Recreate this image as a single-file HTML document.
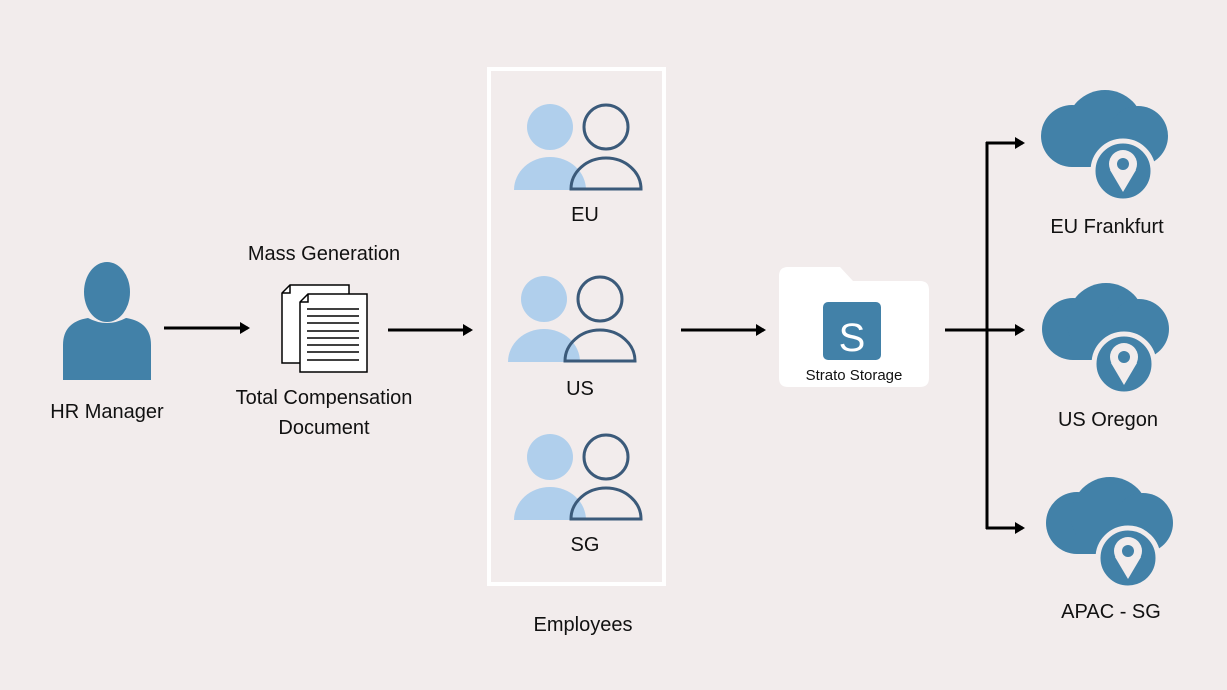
<!DOCTYPE html>
<html><head><meta charset="utf-8"><style>
html,body{margin:0;padding:0;background:#f2ecec;}
svg{display:block}
text{font-family:"Liberation Sans",sans-serif;fill:#111;}
</style></head><body>
<svg width="1227" height="690" viewBox="0 0 1227 690" xmlns="http://www.w3.org/2000/svg">
<defs>
<marker id="ah" markerWidth="12" markerHeight="14" refX="8" refY="7" orient="auto" markerUnits="userSpaceOnUse">
<path d="M0,1 L10,7 L0,13 Z" fill="#000"/>
</marker>
<g id="cloud">
<circle cx="1072" cy="136" r="31" fill="#4281a8"/>
<circle cx="1105" cy="129" r="39" fill="#4281a8"/>
<circle cx="1138" cy="136" r="30" fill="#4281a8"/>
<rect x="1072" y="130" width="66" height="37" fill="#4281a8"/>
<circle cx="1123" cy="171" r="30" fill="#4281a8" stroke="#f2ecec" stroke-width="5"/>
<circle cx="1123" cy="164" r="14" fill="#f2ecec"/>
<path d="M1110,170 L1123,192 L1136,170 Z" fill="#f2ecec"/>
<circle cx="1123" cy="164" r="6" fill="#4281a8"/>
</g>
<g id="pair">
<circle cx="550" cy="127" r="23" fill="#b0cfec"/>
<path d="M514,190 A36,33 0 0 1 586,190 Z" fill="#b0cfec"/>
<circle cx="606" cy="127" r="22" fill="none" stroke="#3b5a7a" stroke-width="3"/>
<path d="M571,189 A35,31 0 0 1 641,189 Z" fill="none" stroke="#3b5a7a" stroke-width="3"/>
</g>
</defs>

<ellipse cx="107" cy="292" rx="23" ry="30" fill="#4281a8"/>
<path d="M63,380 L63,345 Q63,322 88,318 Q107,328 126,318 Q151,322 151,345 L151,380 Z" fill="#4281a8"/>
<text x="107" y="418" font-size="20" text-anchor="middle">HR Manager</text>

<line x1="164" y1="328" x2="248" y2="328" stroke="#000" stroke-width="3" marker-end="url(#ah)"/>

<text x="324" y="260" font-size="20" text-anchor="middle">Mass Generation</text>
<path d="M290,285 L349,285 L349,363 L282,363 L282,293 Z" fill="#fff" stroke="#000" stroke-width="1.5"/>
<path d="M282,293 L290,293 L290,285" fill="none" stroke="#000" stroke-width="1.5"/>
<path d="M308,294 L367,294 L367,372 L300,372 L300,302 Z" fill="#fff" stroke="#000" stroke-width="1.5"/>
<path d="M300,302 L308,302 L308,294" fill="none" stroke="#000" stroke-width="1.5"/>
<g stroke="#000" stroke-width="1.5">
<line x1="307" y1="309" x2="359" y2="309"/><line x1="307" y1="316" x2="359" y2="316"/>
<line x1="307" y1="323" x2="359" y2="323"/><line x1="307" y1="331" x2="359" y2="331"/>
<line x1="307" y1="338" x2="359" y2="338"/><line x1="307" y1="345" x2="359" y2="345"/>
<line x1="307" y1="352" x2="359" y2="352"/><line x1="307" y1="360" x2="359" y2="360"/>
</g>
<text x="324" y="404" font-size="20" text-anchor="middle">Total Compensation</text>
<text x="324" y="434" font-size="20" text-anchor="middle">Document</text>

<line x1="388" y1="330" x2="471" y2="330" stroke="#000" stroke-width="3" marker-end="url(#ah)"/>

<rect x="489" y="69" width="175" height="515" fill="none" stroke="#fff" stroke-width="4"/>
<use href="#pair"/>
<text x="585" y="221" font-size="20" text-anchor="middle">EU</text>
<use href="#pair" transform="translate(-6,172)"/>
<text x="580" y="395" font-size="20" text-anchor="middle">US</text>
<use href="#pair" transform="translate(0,330)"/>
<text x="585" y="551" font-size="20" text-anchor="middle">SG</text>
<text x="583" y="631" font-size="20" text-anchor="middle">Employees</text>

<line x1="681" y1="330" x2="764" y2="330" stroke="#000" stroke-width="3" marker-end="url(#ah)"/>

<path d="M788,267 L840,267 L853,281 L920,281 Q929,281 929,290 L929,378 Q929,387 920,387 L788,387 Q779,387 779,378 L779,276 Q779,267 788,267 Z" fill="#fff"/>
<rect x="823" y="302" width="58" height="58" rx="5" fill="#4281a8"/>
<text x="852" y="351" font-size="40" text-anchor="middle" style="fill:#fff">S</text>
<text x="854" y="380" font-size="15" text-anchor="middle">Strato Storage</text>

<line x1="945" y1="330" x2="1023" y2="330" stroke="#000" stroke-width="3" marker-end="url(#ah)"/>
<line x1="987" y1="142" x2="987" y2="529" stroke="#000" stroke-width="3"/>
<line x1="986" y1="143" x2="1023" y2="143" stroke="#000" stroke-width="3" marker-end="url(#ah)"/>
<line x1="986" y1="528" x2="1023" y2="528" stroke="#000" stroke-width="3" marker-end="url(#ah)"/>

<use href="#cloud"/>
<text x="1107" y="233" font-size="20" text-anchor="middle">EU Frankfurt</text>
<use href="#cloud" transform="translate(1,193)"/>
<text x="1108" y="426" font-size="20" text-anchor="middle">US Oregon</text>
<use href="#cloud" transform="translate(5,387)"/>
<text x="1111" y="618" font-size="20" text-anchor="middle">APAC - SG</text>
</svg>
</body></html>
